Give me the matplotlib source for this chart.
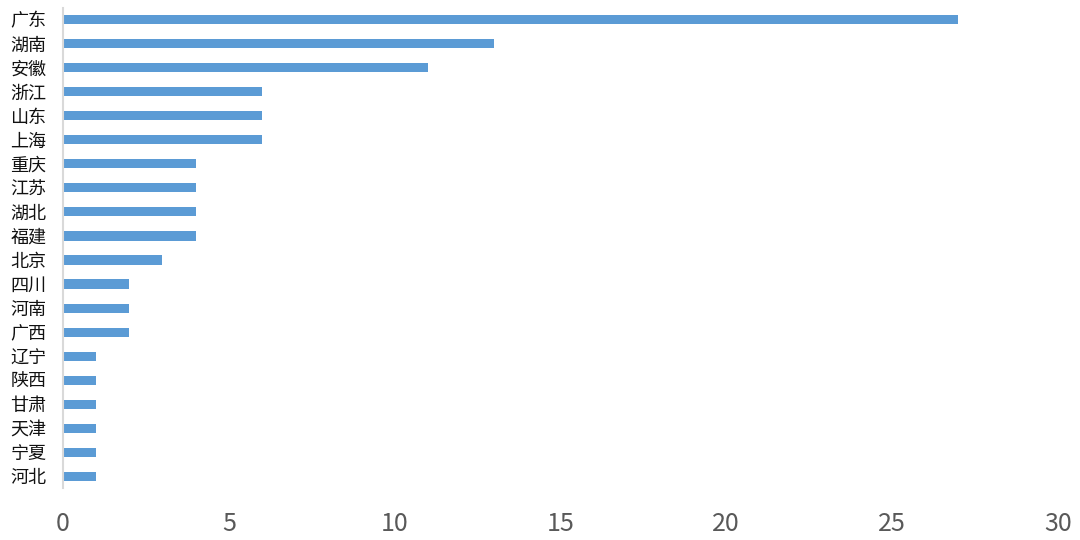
import matplotlib
matplotlib.use('Agg')
import matplotlib.pyplot as plt

plt.rcParams['font.family'] = ['Noto Sans CJK SC', 'DejaVu Sans']

provinces = ['广东', '湖南', '安徽', '浙江', '山东', '上海', '重庆', '江苏', '湖北', '福建',
             '北京', '四川', '河南', '广西', '辽宁', '陕西', '甘肃', '天津', '宁夏', '河北']
counts = [27, 13, 11, 6, 6, 6, 4, 4, 4, 4, 3, 2, 2, 2, 1, 1, 1, 1, 1, 1]
xticks = [0, 5, 10, 15, 20, 25, 30]

fig = plt.figure(figsize=(10.8, 5.4), dpi=100)
ax = fig.add_axes([0.0583, 0.0954, 0.9213, 0.8907])

ypos = list(range(len(provinces)))
ax.barh(ypos, counts, height=0.38, color='#5B9BD5')
ax.set_ylim(len(provinces) - 0.5, -0.5)
ax.set_xlim(0, 30)
ax.set_yticks(ypos)
ax.set_yticklabels(provinces, fontsize=13, color='#111111')
ax.set_xticks(xticks)
ax.set_xticklabels([str(t) for t in xticks], fontsize=18, color='#595959')
ax.tick_params(axis='y', length=0, pad=12)
ax.tick_params(axis='x', length=0, pad=16)

for s in ['top', 'right', 'bottom']:
    ax.spines[s].set_visible(False)
ax.spines['left'].set_color('#D9D9D9')
ax.spines['left'].set_linewidth(1.5)

fig.savefig('out.png', dpi=100)
